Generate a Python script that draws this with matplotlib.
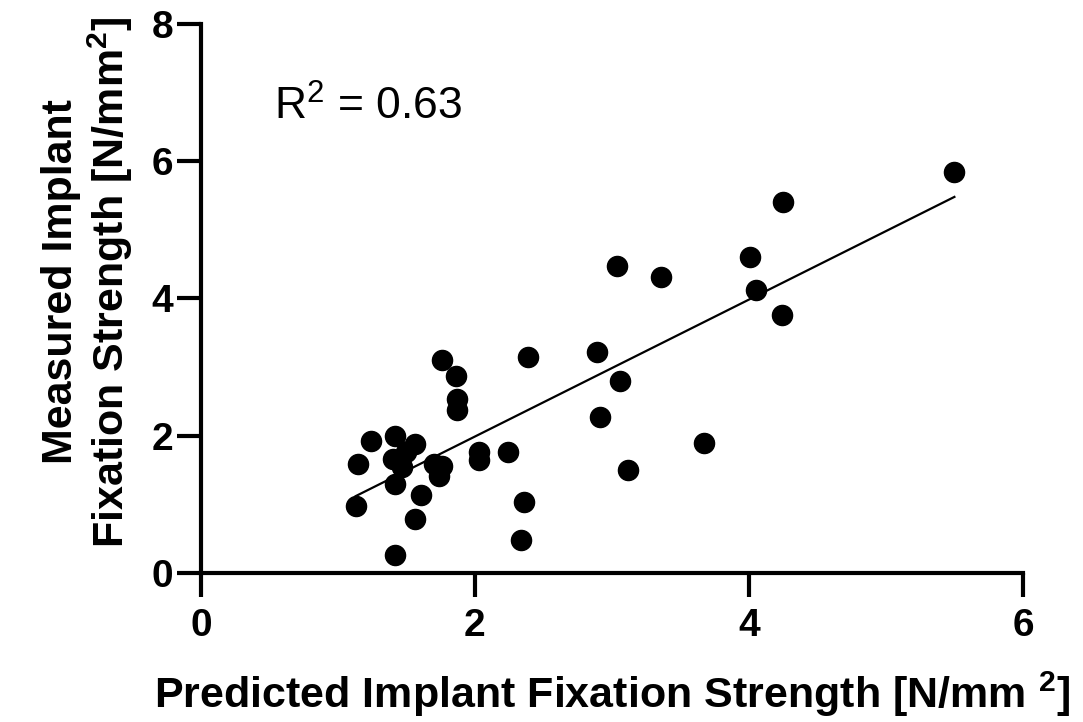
import matplotlib
matplotlib.use('Agg')
import matplotlib.pyplot as plt

# valeurs
predicted = [5.50, 4.25, 4.01, 4.05, 4.24, 3.04, 3.36, 2.89, 3.06, 2.91, 3.67, 3.12,
             1.76, 1.86, 1.87, 1.87, 2.39,
             1.24, 1.42, 1.56, 1.50, 1.40, 1.47, 1.42, 1.70, 1.76, 1.74, 1.61, 1.15,
             2.03, 2.03, 2.24, 1.13, 1.56, 1.42, 2.36, 2.34]
measured = [5.84, 5.41, 4.60, 4.12, 3.76, 4.47, 4.31, 3.22, 2.80, 2.28, 1.89, 1.50,
            3.10, 2.87, 2.54, 2.38, 3.14,
            1.93, 2.00, 1.88, 1.76, 1.66, 1.54, 1.29, 1.59, 1.56, 1.42, 1.13, 1.59,
            1.76, 1.64, 1.77, 0.98, 0.78, 0.26, 1.03, 0.48]

# droite de régression
fit_x = [1.13, 5.50]
fit_y = [1.12, 5.48]
r2 = 0.63

x_ticks = [0, 2, 4, 6]
y_ticks = [0, 2, 4, 6, 8]

plt.rcParams['font.family'] = ['Liberation Sans', 'DejaVu Sans']
plt.rcParams['mathtext.fontset'] = 'custom'
plt.rcParams['mathtext.rm'] = 'Liberation Sans'
plt.rcParams['mathtext.bf'] = 'Liberation Sans:bold'

fig = plt.figure(figsize=(10.83, 7.22), dpi=100)
ax = fig.add_axes([0.1855, 0.2064, 0.759, 0.7604])

ax.scatter(predicted, measured, s=210, color='black', zorder=3)
ax.plot(fit_x, fit_y, color='black', linewidth=1.6, zorder=2)

ax.set_xlim(0, 6)
ax.set_ylim(0, 8)
ax.set_xticks(x_ticks)
ax.set_yticks(y_ticks)

for side in ['top', 'right']:
    ax.spines[side].set_visible(False)
for side in ['left', 'bottom']:
    ax.spines[side].set_linewidth(3)

ax.tick_params(axis='both', width=3, length=17, labelsize=28)
ax.tick_params(axis='x', pad=8)
ax.tick_params(axis='y', pad=3)
for lab in ax.get_xticklabels() + ax.get_yticklabels():
    lab.set_fontweight('bold')

ax.set_xlabel('Predicted Implant Fixation Strength [N/mm $^{\\mathbf{2}}$]',
              fontsize=31, fontweight='bold', labelpad=19)
ax.set_ylabel('Measured Implant\nFixation Strength [N/mm$^{\\mathbf{2}}$]',
              fontsize=31, fontweight='bold', labelpad=12, linespacing=1.1, y=0.53)

ax.text(0.53, 6.6, 'R$^{\\mathrm{2}}$ = ' + f'{r2:.2f}', fontsize=32)

fig.savefig('out.png', dpi=100)
